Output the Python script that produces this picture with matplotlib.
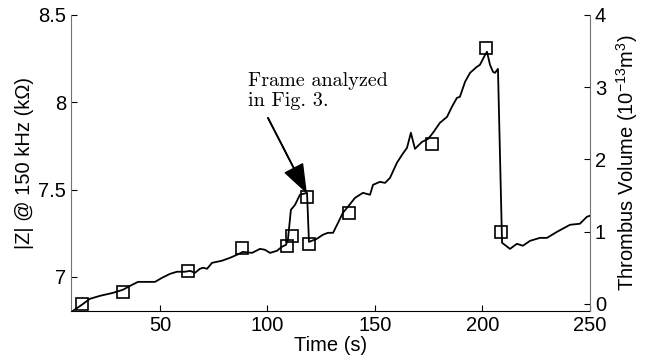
import matplotlib
matplotlib.use("Agg")
import matplotlib.pyplot as plt

# impedance trace (left axis)
time_s = [9.5, 13.7, 17.4, 22.1, 28.1, 32.8, 37.0, 39.8, 45.3, 47.7,
          50.9, 54.7, 57.9, 61.6, 64.0, 66.3, 68.6, 70.0, 71.9, 74.2,
          76.5, 78.8, 82.6, 85.8, 88.6, 92.8, 96.5, 98.8, 101.2, 104.4,
          106.7, 108.6, 109.5, 110.9, 112.8, 115.1, 118.4, 119.3, 123.0, 125.8,
          128.1, 130.5, 132.8, 135.1, 137.4, 140.7, 144.4, 147.7, 149.1, 152.3,
          154.7, 157.0, 160.2, 162.6, 164.9, 166.7, 168.6, 171.9, 174.7, 177.0,
          180.2, 183.5, 185.8, 188.1, 189.5, 191.9, 194.2, 197.4, 198.8, 201.2,
          202.1, 203.5, 204.9, 205.8, 207.2, 209.1, 212.8, 216.0, 218.8, 222.1,
          226.7, 230.0, 234.7, 240.7, 245.3, 248.6, 250.0]
impedance = [6.805, 6.840, 6.874, 6.891, 6.908, 6.926, 6.954, 6.971, 6.971, 6.971,
             6.994, 7.017, 7.029, 7.029, 7.034, 7.023, 7.046, 7.052, 7.046, 7.080,
             7.086, 7.092, 7.109, 7.126, 7.143, 7.137, 7.160, 7.155, 7.137, 7.149,
             7.172, 7.183, 7.212, 7.384, 7.412, 7.470, 7.481, 7.200, 7.218, 7.241,
             7.252, 7.252, 7.309, 7.367, 7.401, 7.452, 7.481, 7.470, 7.527, 7.544,
             7.538, 7.567, 7.653, 7.699, 7.739, 7.825, 7.733, 7.773, 7.790, 7.825,
             7.882, 7.916, 7.974, 8.025, 8.031, 8.117, 8.168, 8.203, 8.214, 8.271,
             8.289, 8.214, 8.174, 8.168, 8.191, 7.195, 7.160, 7.189, 7.178, 7.206,
             7.223, 7.223, 7.258, 7.298, 7.304, 7.344, 7.350]

# thrombus volume samples (right axis)
vol_time = [13.7, 32.8, 63.0, 88.0, 109.0, 111.4, 118.4, 119.3, 138.0, 176.5, 201.5, 208.8]
volume = [0.0, 0.17, 0.46, 0.77, 0.80, 0.94, 1.48, 0.83, 1.26, 2.21, 3.54, 1.0]

plt.rcParams["font.family"] = ["Liberation Sans", "DejaVu Sans"]
plt.rcParams["mathtext.fontset"] = "custom"
plt.rcParams["mathtext.rm"] = "Liberation Sans"

fig = plt.figure(figsize=(6.57, 3.64), dpi=100)
ax = fig.add_axes([0.108, 0.146, 0.790, 0.813])
ax2 = ax.twinx()

ax.plot(time_s, impedance, color="black", lw=1.3)
ax2.plot(vol_time, volume, ls="none", marker="s", ms=8, mfc="none", mec="black", mew=1.2)

ax.set_xlim(8.6, 250)
ax.set_ylim(6.805, 8.5)
ax2.set_ylim(-0.097, 4.0)

ax.set_xticks([50, 100, 150, 200, 250])
ax.set_yticks([7, 7.5, 8, 8.5])
ax.set_yticklabels(["7", "7.5", "8", "8.5"])
ax2.set_yticks([0, 1, 2, 3, 4])

for a in (ax, ax2):
    a.spines["top"].set_visible(False)
    a.tick_params(direction="in", labelsize=14.5, length=4, width=0.8)
ax.spines["right"].set_visible(False)
ax2.spines["left"].set_visible(False)
ax2.spines["bottom"].set_visible(False)
ax.spines["left"].set_color("0.45")
ax2.spines["right"].set_color("0.45")

ax.set_xlabel("Time (s)", fontsize=14.5, labelpad=1)
ax.set_ylabel("|Z| @ 150 kHz (kΩ)", fontsize=14.5, labelpad=3)
ax2.set_ylabel(r"Thrombus Volume (10$^{-13}$m$^{3}$)", fontsize=14.5, labelpad=6)

ax.text(91.0, 8.174, "Frame analyzed\nin Fig. 3.", fontsize=14.5, fontfamily="cmr10",
        ha="left", va="top", linespacing=1.15)
ax.annotate("", xy=(117.9, 7.487), xytext=(100.2, 7.911),
            arrowprops=dict(facecolor="black", edgecolor="black", width=0.4,
                            headwidth=14, headlength=19, shrink=0))

fig.savefig("out.png", dpi=100)
